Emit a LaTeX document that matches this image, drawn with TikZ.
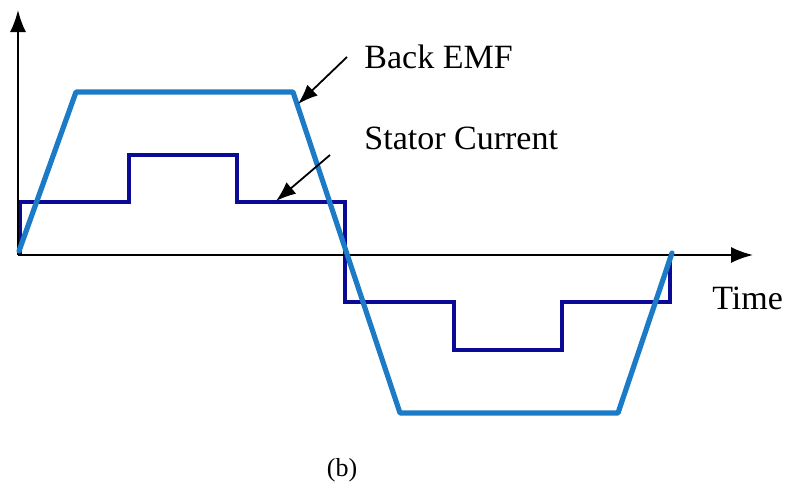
\documentclass[tikz,border=0pt]{standalone}
\usepackage{fontspec}
\setmainfont{Liberation Serif}
\usetikzlibrary{arrows.meta}
\definecolor{emfblue}{HTML}{1B7BC6}
\definecolor{curblue}{HTML}{0A0A96}
\tikzset{
  axis/.style={line width=1pt,-{Latex[length=11pt,width=8pt]}},
  emf/.style={emfblue,line width=2.6pt,line join=round,line cap=round},
  cur/.style={curblue,line width=1.6pt,line join=miter},
  callout/.style={line width=0.9pt,-{Latex[length=10pt,width=7.5pt]}},
  lbl/.style={font=\fontsize{17}{20}\selectfont,inner sep=0pt,anchor=west},
}
\begin{document}
\begin{tikzpicture}[x=0.5pt,y=-0.5pt]
\useasboundingbox (0,0) rectangle (787,488);
\coordinate (O) at (18,255);
\coordinate (ytip) at (18,10);
\coordinate (xtip) at (753,255);
% stator current
\draw[cur] (20,255) -- (20,202) -- (129,202) -- (129,155) -- (237,155) -- (237,202)
  -- (345,202) -- (345,302) -- (454,302) -- (454,350) -- (562,350) -- (562,302)
  -- (670,302) -- (670,255);
% axes
\draw[axis] (O) -- (ytip);
\draw[axis] (O) -- (xtip);
% back emf
\draw[emf] (19,251) -- (76,92) -- (293,92) -- (400,413) -- (618,413) -- (672,253);
% labels
\node[lbl] (emf) at (364,57) {Back EMF};
\node[lbl] (cur) at (364,138) {Stator Current};
\node[lbl] (time) at (712,298) {Time};
\node[font=\fontsize{13}{15}\selectfont,inner sep=0pt] (b) at (342,470) {(b)};
\coordinate (emfs) at (347,57);
\coordinate (emft) at (298,104);
\coordinate (curs) at (330,155);
\coordinate (curt) at (276,201);
\draw[callout] (emfs) -- (emft);
\draw[callout] (curs) -- (curt);
\end{tikzpicture}
\end{document}
